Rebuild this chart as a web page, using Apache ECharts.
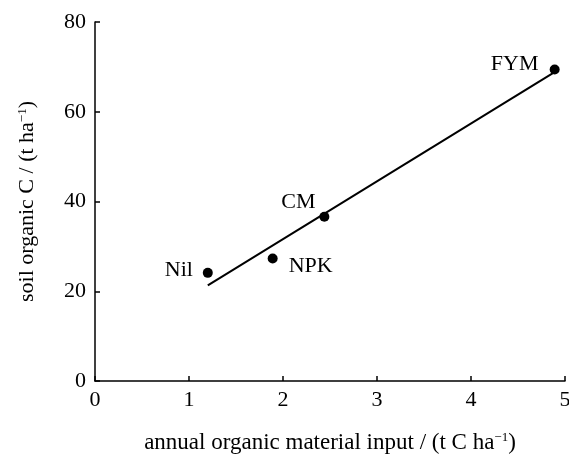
<!DOCTYPE html>
<html>
<head>
<meta charset="utf-8">
<title>soil organic C</title>
<script src="https://cdn.jsdelivr.net/npm/echarts@6/dist/echarts.min.js"></script>
<style>
  html, body { margin: 0; padding: 0; background: #fff; }
  #main { width: 569px; height: 454px; }
</style>
</head>
<body>
<div id="main"></div>
<script>
// data
var treatments = ['Nil', 'NPK', 'CM', 'FYM'];
var inputC = [1.2, 1.89, 2.44, 4.89];
var soilC = [24.1, 27.3, 36.6, 69.4];
var fitX = [1.2, 4.88];
var fitY = [21.3, 68.7];
var xTicks = [0, 1, 2, 3, 4, 5];
var yTicks = [0, 20, 40, 60, 80];

// label placement around each point (pixels)
var labelOffset = {
  Nil: [-29, -3],
  NPK: [38, 8],
  CM: [-26, -15],
  FYM: [-40, -5]
};

var font = 'Liberation Serif';

var points = treatments.map(function (name, i) {
  return {
    name: name,
    value: [inputC[i], soilC[i]],
    label: { offset: labelOffset[name] }
  };
});
var fitLine = fitX.map(function (x, i) { return [x, fitY[i]]; });

function nameStyle(size) {
  return {
    fontFamily: font, fontSize: size, color: '#000',
    rich: {
      a: { fontFamily: font, fontSize: size, color: '#000' },
      sup: { fontFamily: font, fontSize: 13, color: '#000', verticalAlign: 'top', padding: [0, 0, 9, 0] }
    }
  };
}

var axisCommon = {
  axisLine: { lineStyle: { color: '#000', width: 1.5 } },
  axisTick: { inside: true, length: 5, lineStyle: { color: '#000', width: 1.5 } },
  splitLine: { show: false }
};

var chart = echarts.init(document.getElementById('main'));
chart.setOption({
  animation: false,
  grid: { left: 95, right: 4, top: 22, bottom: 73, containLabel: false, outerBoundsMode: 'none' },
  xAxis: Object.assign({}, axisCommon, {
    type: 'value',
    min: xTicks[0],
    max: xTicks[xTicks.length - 1],
    interval: 1,
    name: '{a|annual organic material input / (t C ha}{sup|−1}{a|)}',
    nameLocation: 'middle',
    nameGap: 50,
    nameTextStyle: nameStyle(23),
    axisLabel: { fontFamily: font, fontSize: 22, color: '#000', margin: 8 }
  }),
  yAxis: Object.assign({}, axisCommon, {
    type: 'value',
    min: yTicks[0],
    max: yTicks[yTicks.length - 1],
    interval: 20,
    name: '{a|soil organic C / (t ha}{sup|−1}{a|)}',
    nameLocation: 'middle',
    nameGap: 57,
    nameTextStyle: nameStyle(22),
    axisLabel: { fontFamily: font, fontSize: 22, color: '#000', margin: 9 }
  }),
  series: [
    {
      type: 'line',
      data: fitLine,
      symbol: 'none',
      lineStyle: { color: '#000', width: 2 },
      silent: true
    },
    {
      type: 'scatter',
      data: points,
      symbolSize: 10,
      itemStyle: { color: '#000', opacity: 1 },
      label: {
        show: true,
        position: 'inside',
        formatter: '{b}',
        fontFamily: font,
        fontSize: 22,
        color: '#000'
      }
    }
  ]
});
</script>
</body>
</html>
